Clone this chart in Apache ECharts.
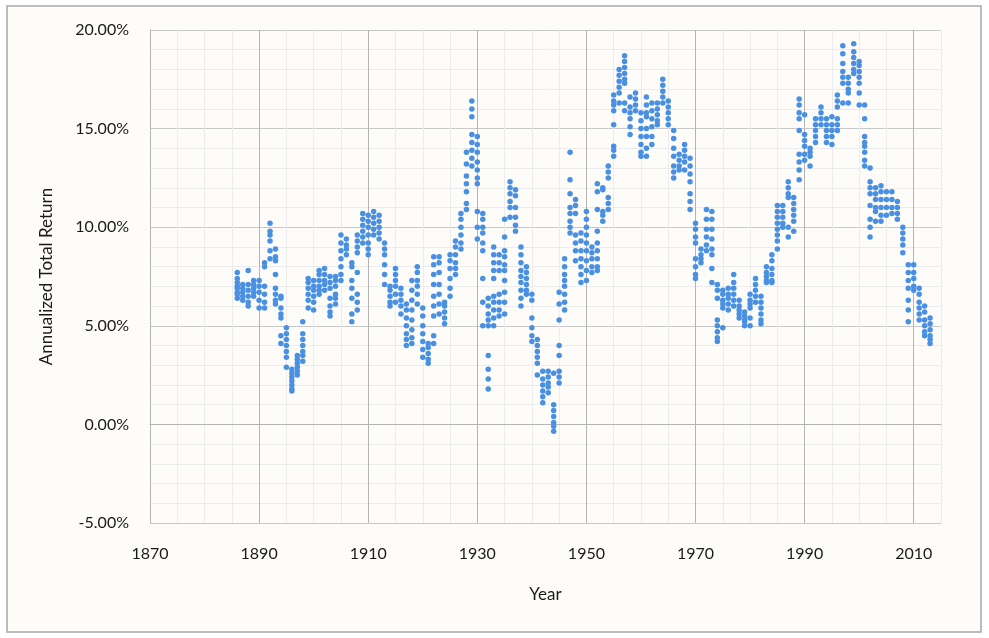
<!DOCTYPE html>
<html>
<head>
<meta charset="utf-8">
<script src="https://cdn.jsdelivr.net/npm/echarts@6/dist/echarts.min.js"></script>
<style>
  html, body { margin: 0; padding: 0; background: #ffffff; }
  #chart { width: 989px; height: 638px; }
</style>
</head>
<body>
<div id="chart"></div>
<script>
// years shown on the x axis, one column of points per year
const years = [
  1886, 1887, 1888, 1889, 1890, 1891, 1892, 1893, 1894, 1895,
  1896, 1897, 1898, 1899, 1900, 1901, 1902, 1903, 1904, 1905,
  1906, 1907, 1908, 1909, 1910, 1911, 1912, 1913, 1914, 1915,
  1916, 1917, 1918, 1919, 1920, 1921, 1922, 1923, 1924, 1925,
  1926, 1927, 1928, 1929, 1930, 1931, 1932, 1933, 1934, 1935,
  1936, 1937, 1938, 1939, 1940, 1941, 1942, 1943, 1944, 1945,
  1946, 1947, 1948, 1949, 1950, 1951, 1952, 1953, 1954, 1955,
  1956, 1957, 1958, 1959, 1960, 1961, 1962, 1963, 1964, 1965,
  1966, 1967, 1968, 1969, 1970, 1971, 1972, 1973, 1974, 1975,
  1976, 1977, 1978, 1979, 1980, 1981, 1982, 1983, 1984, 1985,
  1986, 1987, 1988, 1989, 1990, 1991, 1992, 1993, 1994, 1995,
  1996, 1997, 1998, 1999, 2000, 2001, 2002, 2003, 2004, 2005,
  2006, 2007, 2008, 2009, 2010, 2011, 2012, 2013
];

// annualized total return (%) read per year, same order as years
const returns = [
  [7.7, 7.4, 7.2, 7.0, 6.9, 6.7, 6.6, 6.4],
  [7.1, 6.9, 6.7, 6.5, 6.3],
  [7.8, 7.1, 6.8, 6.5, 6.2, 6.0],
  [7.3, 7.1, 6.9, 6.7, 6.5],
  [7.3, 7.0, 6.7, 6.3, 5.9],
  [8.2, 8.0, 7.0, 6.6, 6.2, 5.9],
  [10.2, 9.8, 9.6, 9.3, 8.8, 8.4],
  [8.9, 8.5, 8.3, 7.6, 6.9, 6.6, 6.3, 6.1],
  [6.5, 6.4, 5.9, 5.6, 5.4, 4.5, 4.1],
  [4.9, 4.6, 4.3, 4.0, 3.7, 3.4, 2.9],
  [2.8, 2.6, 2.4, 2.2, 2.0, 1.8, 1.7],
  [3.5, 3.3, 3.1, 2.9, 2.7, 2.5],
  [5.2, 4.6, 4.3, 4.0, 3.7, 3.5, 3.2],
  [7.4, 7.2, 6.9, 6.6, 6.3, 5.9],
  [7.3, 7.0, 6.8, 6.5, 6.2, 5.8],
  [7.8, 7.6, 7.3, 7.0, 6.8, 6.6],
  [7.9, 7.6, 7.3, 7.1, 6.8],
  [7.5, 7.2, 6.9, 6.4, 6.0, 5.7, 5.5],
  [7.5, 7.3, 7.0, 6.6, 6.4, 6.1],
  [9.6, 9.2, 8.8, 8.4, 8.0, 7.6, 7.3],
  [9.4, 9.1, 8.9, 8.6],
  [8.2, 8.0, 7.3, 6.9, 6.4, 5.6, 5.2],
  [9.6, 9.3, 9.0, 8.7, 7.7, 6.6, 6.2, 5.8],
  [10.7, 10.4, 10.1, 9.8, 9.5, 9.2],
  [10.6, 10.3, 10.0, 9.6, 9.2, 8.9, 8.6],
  [10.8, 10.5, 10.2, 9.9, 9.6],
  [10.6, 10.3, 10.0, 9.7, 9.4],
  [9.2, 8.9, 8.6, 8.1, 7.6, 7.1],
  [7.0, 6.8, 6.5, 6.2, 6.0],
  [7.9, 7.6, 7.3, 7.0, 6.6, 6.2],
  [6.9, 6.6, 6.3, 6.0, 5.6],
  [6.1, 5.8, 5.4, 5.0, 4.6, 4.3, 4.0],
  [7.3, 6.8, 6.3, 5.8, 5.3, 4.8, 4.4, 4.1],
  [8.0, 7.7, 7.3, 7.0, 6.6, 6.1],
  [5.9, 5.5, 5.0, 4.6, 4.2, 3.8, 3.4],
  [4.1, 3.9, 3.6, 3.3, 3.1],
  [8.5, 8.1, 7.6, 7.1, 6.5, 6.0, 5.5, 4.5, 4.1],
  [8.5, 8.2, 7.7, 7.1, 6.6, 6.1, 5.6],
  [6.2, 6.0, 5.7, 5.4, 5.1],
  [8.6, 8.3, 7.9, 7.4, 6.9, 6.5],
  [9.3, 9.0, 8.6, 8.2, 7.9, 7.6],
  [10.7, 10.4, 10.0, 9.6, 9.2, 8.9],
  [13.8, 13.2, 12.6, 12.2, 11.8, 11.2, 10.9],
  [16.4, 16.0, 15.6, 14.7, 14.3, 13.9, 13.5, 13.1],
  [14.6, 14.2, 13.8, 13.3, 12.9, 12.5, 12.2, 10.8, 10.0, 9.4],
  [10.7, 10.4, 10.0, 9.7, 9.2, 8.8, 7.4, 6.2, 5.0],
  [6.4, 6.0, 5.6, 5.3, 5.0, 3.5, 2.8, 2.3, 1.8],
  [9.0, 8.6, 8.2, 7.8, 7.4, 6.5, 6.2, 5.8, 5.4, 5.0],
  [8.6, 8.2, 7.8, 6.6, 6.2, 5.8, 5.5],
  [10.4, 9.5, 8.8, 8.5, 8.1, 7.8, 7.3, 6.7, 6.2, 5.6],
  [12.3, 12.0, 11.7, 11.3, 11.0, 10.5],
  [11.9, 11.6, 11.0, 10.5, 10.1, 9.8],
  [9.0, 8.6, 8.2, 7.8, 7.5, 7.2, 6.8, 6.4, 6.0],
  [8.0, 7.7, 7.4, 7.1, 6.8, 6.6],
  [6.6, 6.3, 5.4, 4.9, 4.5, 4.2],
  [4.3, 4.0, 3.7, 3.4, 3.1, 2.5],
  [2.7, 2.3, 2.0, 1.7, 1.4, 1.1],
  [2.7, 2.4, 2.1, 1.9, 1.6],
  [2.6, 1.0, 0.7, 0.4, 0.1, -0.1, -0.35],
  [6.7, 6.1, 5.3, 4.0, 3.5, 2.7, 2.4, 2.1],
  [8.4, 8.0, 7.6, 7.3, 7.0, 6.6, 6.2, 5.8],
  [13.8, 12.4, 11.7, 11.0, 10.7, 10.3, 10.0, 9.7],
  [11.4, 11.1, 10.7, 9.6, 9.2, 8.8, 8.3],
  [9.7, 9.3, 8.8, 8.4, 8.0, 7.6, 7.2],
  [10.8, 10.4, 10.0, 9.6, 9.2, 8.8, 8.3, 7.8, 7.3],
  [9.0, 8.7, 8.4, 8.0, 7.7],
  [12.2, 11.8, 10.9, 9.8, 9.2, 8.8, 8.4, 8.0, 7.8],
  [12.0, 11.9, 10.8, 10.6, 10.3],
  [13.1, 12.8, 12.5, 11.5, 11.2, 10.9],
  [16.7, 16.4, 16.2, 15.9, 15.2, 14.1, 13.9, 13.6],
  [18.0, 17.7, 17.4, 17.1, 16.8, 16.3],
  [18.7, 18.4, 18.1, 17.8, 17.5, 17.3, 16.3, 15.9],
  [16.6, 16.1, 15.8, 15.5, 15.1, 14.7],
  [16.8, 16.5, 16.2, 15.9],
  [15.8, 15.4, 15.0, 14.6, 14.2, 13.8, 13.6],
  [16.6, 16.2, 15.8, 15.6, 15.0, 14.6, 14.0, 13.6],
  [16.3, 15.9, 15.5, 15.1, 14.6, 14.2],
  [16.3, 16.0, 15.7, 15.4, 15.2],
  [17.5, 17.2, 16.9, 16.6, 16.3],
  [16.4, 16.1, 15.8, 15.5, 15.2],
  [14.9, 14.5, 14.0, 13.6, 13.1, 12.8, 12.5],
  [13.7, 13.4, 13.1, 12.9],
  [14.2, 13.9, 13.6, 13.3, 12.9],
  [13.5, 13.1, 12.7, 12.3, 11.7, 11.3, 10.9],
  [10.2, 9.9, 9.5, 9.2, 8.4, 8.0, 7.6, 7.4],
  [8.9, 8.6, 8.4, 8.2],
  [10.9, 10.4, 9.9, 9.5, 9.1, 8.8],
  [10.8, 10.4, 9.9, 9.4, 8.9, 8.6, 7.9, 7.2],
  [7.1, 6.8, 6.4, 5.3, 5.0, 4.7, 4.4, 4.2],
  [6.8, 6.6, 6.3, 6.1, 5.9, 4.9],
  [6.9, 6.6, 6.4, 6.1, 5.8],
  [7.6, 7.2, 6.9, 6.6, 6.3, 6.0],
  [6.3, 6.0, 5.8, 5.6, 5.4],
  [5.7, 5.5, 5.3, 5.2, 5.0],
  [6.6, 6.3, 6.1, 5.9, 5.4, 5.0],
  [7.4, 7.1, 6.8, 6.5, 6.2],
  [6.5, 6.2, 5.9, 5.6, 5.3, 5.1],
  [8.0, 7.7, 7.5, 7.3, 7.2],
  [8.6, 8.3, 7.9, 7.6, 7.3, 7.2],
  [11.1, 10.8, 10.5, 10.2, 9.9, 9.6, 9.3, 8.9],
  [11.1, 10.8, 10.5, 10.2, 10.0],
  [12.3, 12.0, 11.7, 11.5, 10.0, 9.5],
  [11.5, 11.2, 10.9, 10.6, 10.3, 9.8],
  [16.5, 16.2, 15.8, 15.5, 14.9, 13.7, 13.3, 12.9, 12.4],
  [15.7, 14.7, 14.4, 14.1, 13.7, 13.4],
  [14.0, 13.8, 13.6, 13.1],
  [15.5, 15.2, 14.9, 14.6, 14.3],
  [16.1, 15.8, 15.5, 15.2],
  [15.5, 15.2, 14.9, 14.6, 14.3],
  [15.6, 15.2, 14.9, 14.6, 14.2],
  [16.7, 16.4, 16.1, 15.5, 15.2, 14.9],
  [19.2, 18.8, 18.3, 17.9, 17.6, 17.3, 16.3],
  [17.6, 17.3, 17.0, 16.8, 16.3],
  [19.3, 18.9, 18.6, 18.3, 18.0, 17.8],
  [18.4, 18.2, 17.9, 17.6, 17.3, 16.8, 16.2],
  [16.2, 15.5, 14.6, 14.3, 14.1, 13.8, 13.4, 13.1],
  [13.0, 12.3, 12.0, 11.7, 11.1, 10.4, 10.0, 9.5],
  [12.0, 11.7, 11.4, 11.0, 10.8, 10.3],
  [12.1, 11.8, 11.4, 11.0, 10.6, 10.3],
  [11.8, 11.4, 11.0, 10.6],
  [11.8, 11.4, 11.0, 10.7],
  [11.3, 11.0, 10.7, 10.4],
  [10.0, 9.7, 9.4, 9.1, 8.7],
  [8.1, 7.7, 7.3, 6.9, 6.3, 5.8, 5.2],
  [8.1, 7.7, 7.4, 7.0, 6.8],
  [6.9, 6.6, 6.2, 5.9, 5.6, 5.3],
  [6.0, 5.7, 5.3, 5.0, 4.7, 4.5],
  [5.4, 5.1, 4.8, 4.5, 4.3, 4.1]
];

const xStart = 1870;
const xTickStep = 20; // labelled years
const yTickStep = 5;  // labelled percents

const points = [];
years.forEach((yr, i) => {
  returns[i].forEach(v => points.push([yr, v]));
});

const font = 'Lato, "Open Sans", sans-serif';
const major = '#b4b4b4';
const minor = '#ececec';

const chart = echarts.init(document.getElementById('chart'));
chart.setOption({
  backgroundColor: '#ffffff',
  animation: false,
  textStyle: { fontFamily: font },
  graphic: [{
    type: 'rect',
    z: -10,
    silent: true,
    shape: { x: 7, y: 6, width: 974, height: 626 },
    style: { fill: '#fdfcf8', stroke: '#a8a8a8', lineWidth: 1.5 }
  }],
  grid: { left: 150, top: 30, right: 48, bottom: 115 },
  xAxis: {
    type: 'value',
    min: xStart,
    max: 2015,
    interval: 5,
    name: 'Year',
    nameLocation: 'middle',
    nameGap: 63,
    nameTextStyle: { fontSize: 17, color: '#1a1a1a', fontFamily: font },
    axisLine: { show: true, lineStyle: { color: major, width: 1 } },
    axisTick: { show: false },
    axisLabel: {
      margin: 23,
      fontSize: 16,
      color: '#1a1a1a',
      fontFamily: font,
      formatter: v => ((v - xStart) % xTickStep === 0 ? String(v) : '')
    },
    splitLine: {
      show: true,
      lineStyle: { color: [major, minor, minor, minor], width: 1 }
    }
  },
  yAxis: {
    type: 'value',
    min: -5,
    max: 20,
    interval: 1,
    name: 'Annualized Total Return',
    nameLocation: 'middle',
    nameGap: 95,
    nameTextStyle: { fontSize: 17, color: '#1a1a1a', fontFamily: font },
    axisLine: { show: true, lineStyle: { color: major, width: 1 } },
    axisTick: { show: false },
    axisLabel: {
      margin: 21,
      fontSize: 16,
      color: '#1a1a1a',
      fontFamily: font,
      formatter: v => (Math.round(v) % yTickStep === 0 ? v.toFixed(2) + '%' : '')
    },
    splitLine: {
      show: true,
      lineStyle: { color: ['#c8c8c8', minor, minor, minor, minor], width: 1 }
    }
  },
  series: [{
    type: 'scatter',
    data: points,
    symbol: 'circle',
    symbolSize: 5.5,
    itemStyle: { color: '#4a90e2', opacity: 1 }
  }]
});
</script>
</body>
</html>
